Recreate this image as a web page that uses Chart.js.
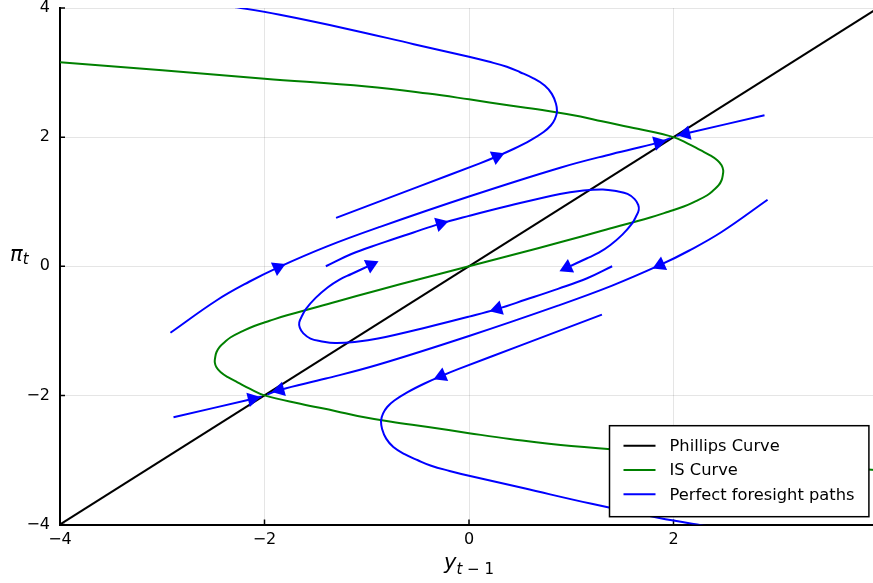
<!DOCTYPE html>
<html>
<head>
<meta charset="utf-8">
<style>
  html, body { margin: 0; padding: 0; overflow: hidden; background: #fff; }
  #frame { position: relative; width: 873px; height: 583px; overflow: hidden; }
  canvas { display: block; }
</style>
<script src="https://cdn.jsdelivr.net/npm/chart.js@4.4.1/dist/chart.umd.min.js"></script>
</head>
<body>
<div id="frame"><canvas id="chart" width="878" height="583"></canvas></div>
<script>
// Axis ticks and titles
const xTicks = [-4, -2, 0, 2, 4];
const yTicks = [-4, -2, 0, 2, 4];
const xTitle = ['y', 't', ' \u2212 1'];   // y_{t-1}
const yTitle = ['\u03C0', 't'];           // pi_t

// Phillips curve (45 degree line)
const phillips = [[-4, -4], [4, 4]];

// IS curve, traced from the upper-left edge to the lower-right edge
const isCurve = [
  [-4.00, 3.16], [-3.00, 3.035], [-2.00, 2.905], [-1.00, 2.785], [-0.40, 2.675],
  [0.00, 2.585], [0.40, 2.49], [0.76, 2.41], [1.09, 2.32], [1.30, 2.245],
  [1.65, 2.13], [2.00, 2.00], [2.14, 1.90], [2.264, 1.797], [2.358, 1.719],
  [2.428, 1.642], [2.47, 1.564], [2.486, 1.487], [2.482, 1.41], [2.47, 1.332],
  [2.442, 1.255], [2.391, 1.177], [2.33, 1.10], [2.22, 1.01], [2.10, 0.925],
  [1.95, 0.845], [1.78, 0.76], [1.30, 0.55], [0.90, 0.375], [0.45, 0.185],
  [0.00, 0.00],
  [-0.45, -0.185], [-0.90, -0.375], [-1.30, -0.55], [-1.78, -0.76], [-1.95, -0.845],
  [-2.10, -0.925], [-2.22, -1.01], [-2.33, -1.10], [-2.391, -1.177], [-2.442, -1.255],
  [-2.47, -1.332], [-2.482, -1.41], [-2.486, -1.487], [-2.47, -1.564], [-2.428, -1.642],
  [-2.358, -1.719], [-2.264, -1.797], [-2.14, -1.90], [-2.00, -2.00], [-1.65, -2.13],
  [-1.30, -2.245], [-1.09, -2.32], [-0.76, -2.41], [-0.40, -2.49], [0.00, -2.585],
  [0.40, -2.675], [1.00, -2.785], [2.00, -2.905], [3.00, -3.035], [4.00, -3.16]
];

// Perfect foresight paths, each listed in the direction of motion
const pathA = [
  [-1.30, 0.75], [-0.50, 1.23], [0.10, 1.59], [0.27, 1.70], [0.44, 1.82],
  [0.60, 1.95], [0.73, 2.08], [0.80, 2.18], [0.84, 2.28], [0.86, 2.39],
  [0.85, 2.52], [0.81, 2.67], [0.74, 2.80], [0.63, 2.91], [0.50, 3.005],
  [0.37, 3.09], [0.19, 3.17], [0.00, 3.245], [-0.54, 3.44], [-1.20, 3.68],
  [-1.85, 3.895], [-2.27, 4.01], [-2.60, 4.09]
];
const arrowsA = [3];

const pathE = [
  [1.30, -0.75], [0.50, -1.23], [-0.10, -1.59], [-0.27, -1.70], [-0.44, -1.82],
  [-0.60, -1.95], [-0.73, -2.08], [-0.80, -2.18], [-0.84, -2.28], [-0.86, -2.39],
  [-0.85, -2.52], [-0.81, -2.67], [-0.74, -2.80], [-0.63, -2.91], [-0.50, -3.005],
  [-0.37, -3.09], [-0.19, -3.17], [0.00, -3.245], [0.54, -3.44], [1.20, -3.68],
  [1.85, -3.895], [2.27, -4.01], [2.60, -4.09]
];
const arrowsE = [3];

const pathB = [
  [-2.92, -1.03], [-2.47, -0.53], [-2.15, -0.24], [-1.87, -0.02], [-1.40, 0.30],
  [-0.87, 0.61], [0.00, 1.08], [0.90, 1.53], [1.40, 1.74], [1.85, 1.915], [1.97, 1.985]
];
const arrowsB = [3, 9];

const pathD = [
  [2.92, 1.03], [2.47, 0.53], [2.15, 0.24], [1.87, 0.02], [1.40, -0.30],
  [0.87, -0.61], [0.00, -1.08], [-0.90, -1.53], [-1.40, -1.74], [-1.85, -1.915], [-1.97, -1.985]
];
const arrowsD = [3, 9];

const pathB2 = [[2.89, 2.34], [2.12, 2.055], [2.03, 2.02]];
const arrowsB2 = [1];

const pathD2 = [[-2.89, -2.34], [-2.12, -2.055], [-2.03, -2.02]];
const arrowsD2 = [1];

const pathC = [
  [-1.40, 0.00], [-1.15, 0.19], [-0.87, 0.35], [-0.55, 0.52], [-0.28, 0.66],
  [0.00, 0.78], [0.40, 0.94], [0.89, 1.12], [1.10, 1.17], [1.31, 1.19],
  [1.45, 1.16], [1.55, 1.12], [1.62, 1.04], [1.655, 0.95], [1.66, 0.87],
  [1.63, 0.76], [1.594, 0.66], [1.50, 0.49], [1.38, 0.325], [1.27, 0.21],
  [1.15, 0.12], [0.96, -0.02]
];
const arrowsC = [4, 21];

const pathC2 = [
  [1.40, 0.00], [1.15, -0.19], [0.87, -0.35], [0.55, -0.52], [0.28, -0.66],
  [0.00, -0.78], [-0.40, -0.94], [-0.89, -1.12], [-1.10, -1.17], [-1.31, -1.19],
  [-1.45, -1.16], [-1.55, -1.12], [-1.62, -1.04], [-1.655, -0.95], [-1.66, -0.87],
  [-1.63, -0.76], [-1.594, -0.66], [-1.50, -0.49], [-1.38, -0.325], [-1.27, -0.21],
  [-1.15, -0.12], [-0.96, 0.02]
];
const arrowsC2 = [4, 21];

const FONT = "'DejaVu Sans', sans-serif";
const BLUE = '#0000ff';
const GREEN = '#008000';
const BLACK = '#000000';

const toXY = pts => pts.map(p => ({ x: p[0], y: p[1] }));
const fmtTick = v => (v < 0 ? '\u2212' + Math.abs(v) : String(v));

// Direction of an arrowhead: tangent of the path at that point, in screen space
function arrowAngle(chart, pts, i) {
  const xs = chart.scales.x, ys = chart.scales.y;
  const a = pts[Math.max(i - 1, 0)];
  const b = pts[Math.min(i + 1, pts.length - 1)];
  const dx = xs.getPixelForValue(b[0]) - xs.getPixelForValue(a[0]);
  const dy = ys.getPixelForValue(b[1]) - ys.getPixelForValue(a[1]);
  return Math.atan2(dx, -dy) * 180 / Math.PI;
}

const paths = [
  [pathA, arrowsA], [pathB, arrowsB], [pathB2, arrowsB2], [pathC, arrowsC],
  [pathC2, arrowsC2], [pathD, arrowsD], [pathD2, arrowsD2], [pathE, arrowsE]
];

const datasets = [
  {
    label: 'Phillips Curve', data: toXY(phillips), showLine: true,
    borderColor: BLACK, borderWidth: 2, pointRadius: 0, tension: 0, order: 3
  },
  {
    label: 'IS Curve', data: toXY(isCurve), showLine: true,
    borderColor: GREEN, borderWidth: 2, pointRadius: 0, tension: 0.4, order: 2
  }
];

paths.forEach(([pts, arrows]) => {
  datasets.push({
    label: 'Perfect foresight paths', data: toXY(pts), showLine: true,
    borderColor: BLUE, borderWidth: 2, pointRadius: 0, tension: 0.4, order: 1
  });
  datasets.push({
    label: 'Perfect foresight paths', isArrow: true,
    data: arrows.map(i => ({ x: pts[i][0], y: pts[i][1] })),
    showLine: false, pointStyle: 'triangle', pointRadius: 8.5,
    pointBackgroundColor: BLUE, pointBorderWidth: 0,
    pointRotation: ctx => arrowAngle(ctx.chart, pts, arrows[ctx.dataIndex]),
    order: 0
  });
});

// Short tick marks pointing into the plot area
const innerTicks = {
  id: 'innerTicks',
  beforeDatasetsDraw(chart) {
    const { ctx, chartArea: a, scales: { x, y } } = chart;
    ctx.save();
    ctx.strokeStyle = BLACK;
    ctx.lineWidth = 1.5;
    ctx.beginPath();
    xTicks.forEach(v => {
      const px = x.getPixelForValue(v);
      ctx.moveTo(px, a.bottom); ctx.lineTo(px, a.bottom - 5);
    });
    yTicks.forEach(v => {
      const py = y.getPixelForValue(v);
      ctx.moveTo(a.left, py); ctx.lineTo(a.left + 5, py);
    });
    ctx.stroke();
    ctx.restore();
  }
};

// Axis titles with subscripts
const axisTitles = {
  id: 'axisTitles',
  afterDraw(chart) {
    const { ctx, chartArea: a } = chart;
    const big = 'italic 21px ' + FONT;
    const sub = 'italic 15px ' + FONT;
    const subUp = '15px ' + FONT;
    ctx.save();
    ctx.fillStyle = BLACK;
    ctx.textAlign = 'left';
    ctx.textBaseline = 'alphabetic';

    // vertical axis: pi_t
    const yb = (a.top + a.bottom) / 2 - 5.5;
    ctx.font = big;
    ctx.fillText(yTitle[0], 10, yb);
    const wp = ctx.measureText(yTitle[0]).width;
    ctx.font = sub;
    ctx.fillText(yTitle[1], 10 + wp, yb + 3.5);

    // horizontal axis: y_{t-1}
    ctx.font = big; const w0 = ctx.measureText(xTitle[0]).width;
    ctx.font = sub; const w1 = ctx.measureText(xTitle[1]).width;
    ctx.font = subUp; const w2 = ctx.measureText(xTitle[2]).width;
    let xx = (a.left + a.right) / 2 - (w0 + w1 + w2) / 2;
    const xb = 568.5;
    ctx.font = big; ctx.fillText(xTitle[0], xx, xb); xx += w0;
    ctx.font = sub; ctx.fillText(xTitle[1], xx, xb + 5.5); xx += w1;
    ctx.font = subUp; ctx.fillText(xTitle[2], xx, xb + 5.5);
    ctx.restore();
  }
};

// Framed legend in the lower right of the plot area
const frameLegend = {
  id: 'frameLegend',
  afterDraw(chart) {
    const { ctx, chartArea: a } = chart;
    const seen = new Set();
    const items = [];
    chart.data.datasets.forEach(ds => {
      if (ds.isArrow || seen.has(ds.label)) return;
      seen.add(ds.label);
      items.push(ds);
    });
    const w = 259.4, h = 91;
    const right = a.right - 9.1, bottom = a.bottom - 7.8;
    const left = right - w, top = bottom - h;
    ctx.save();
    ctx.fillStyle = '#ffffff';
    ctx.fillRect(left, top, w, h);
    ctx.strokeStyle = BLACK;
    ctx.lineWidth = 1.5;
    ctx.strokeRect(left, top, w, h);
    ctx.font = '16.3px ' + FONT;
    ctx.textAlign = 'left';
    ctx.textBaseline = 'middle';
    items.forEach((ds, i) => {
      const cy = top + 20 + i * 24.3;
      ctx.strokeStyle = ds.borderColor;
      ctx.lineWidth = 2;
      ctx.beginPath();
      ctx.moveTo(left + 14, cy); ctx.lineTo(left + 46, cy);
      ctx.stroke();
      ctx.fillStyle = BLACK;
      ctx.fillText(ds.label, left + 60, cy + 1);
    });
    ctx.restore();
  }
};

new Chart(document.getElementById('chart'), {
  type: 'scatter',
  data: { datasets },
  options: {
    responsive: false,
    animation: false,
    events: [],
    layout: { autoPadding: false, padding: { left: 0, right: 0, top: 8, bottom: 0 } },
    plugins: { legend: { display: false }, tooltip: { enabled: false } },
    scales: {
      x: {
        type: 'linear', min: -4, max: 4,
        afterBuildTicks: s => { s.ticks = xTicks.map(v => ({ value: v })); },
        afterFit: s => { s.height = 58.5; s.paddingLeft = 0; s.paddingRight = 0; },
        grid: { color: 'rgba(0,0,0,0.1)', lineWidth: 1, drawTicks: false },
        border: { display: true, color: BLACK, width: 2 },
        ticks: {
          padding: 6, color: BLACK, autoSkip: false, maxRotation: 0,
          font: { family: FONT, size: 16 }, callback: fmtTick
        }
      },
      y: {
        type: 'linear', min: -4, max: 4,
        afterBuildTicks: s => { s.ticks = yTicks.map(v => ({ value: v })); },
        afterFit: s => { s.width = 60; s.paddingTop = 0; s.paddingBottom = 0; },
        grid: { color: 'rgba(0,0,0,0.1)', lineWidth: 1, drawTicks: false },
        border: { display: true, color: BLACK, width: 2 },
        ticks: {
          padding: 10, color: BLACK, autoSkip: false,
          font: { family: FONT, size: 16 }, callback: fmtTick
        }
      }
    }
  },
  plugins: [innerTicks, axisTitles, frameLegend]
});
</script>
</body>
</html>
